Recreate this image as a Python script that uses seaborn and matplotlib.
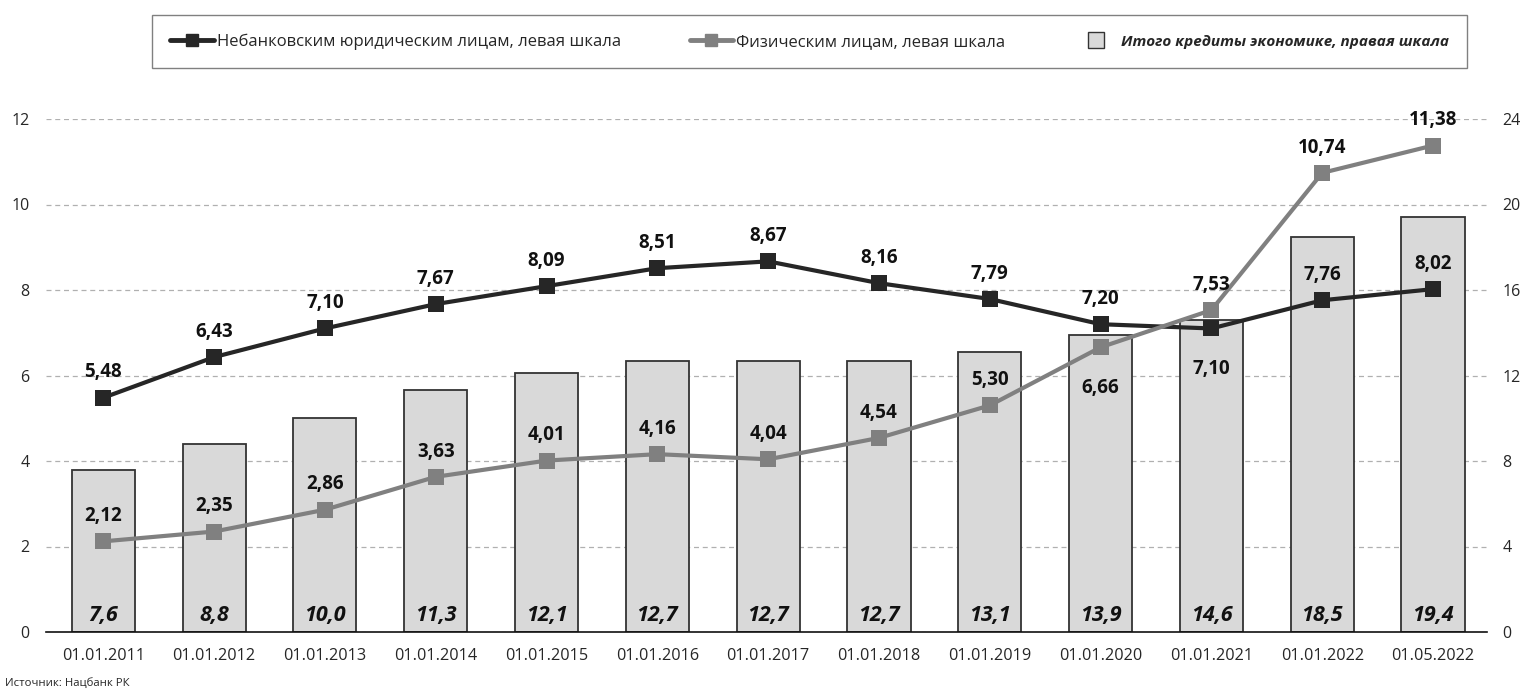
import matplotlib
matplotlib.use("Agg")
import matplotlib.pyplot as plt
import seaborn as sns
import numpy as np
import pandas as pd
from matplotlib.lines import Line2D

# data
dates = ['01.01.2011', '01.01.2012', '01.01.2013', '01.01.2014', '01.01.2015',
         '01.01.2016', '01.01.2017', '01.01.2018', '01.01.2019', '01.01.2020',
         '01.01.2021', '01.01.2022', '01.05.2022']
legal = [5.48, 6.43, 7.10, 7.67, 8.09, 8.51, 8.67, 8.16, 7.79, 7.20, 7.10, 7.76, 8.02]
persons = [2.12, 2.35, 2.86, 3.63, 4.01, 4.16, 4.04, 4.54, 5.30, 6.66, 7.53, 10.74, 11.38]
total = [7.6, 8.8, 10.0, 11.3, 12.1, 12.7, 12.7, 12.7, 13.1, 13.9, 14.6, 18.5, 19.4]

# labels drawn below the marker instead of above
legal_below = ['01.01.2021']
persons_below = ['01.01.2020']

labels = ['Небанковским юридическим лицам, левая шкала',
          'Физическим лицам, левая шкала',
          'Итого кредиты экономике, правая шкала']

df = pd.DataFrame({'date': dates, 'legal': legal, 'persons': persons, 'total': total})

sns.set_style('white')
plt.rcParams['font.family'] = ['Open Sans', 'DejaVu Sans']

dark = '#262626'
grey = '#808080'
bar_col = '#d9d9d9'

W, H = 1523, 693
fig = plt.figure(figsize=(W / 100, H / 100), dpi=100)
ax_bar = fig.add_axes([46 / W, 1 - 632 / H, (1487 - 46) / W, (632 - 119) / H])
ax_line = ax_bar.twinx()

# bars on the right scale
sns.barplot(data=df, x='date', y='total', ax=ax_bar, color=bar_col, saturation=1,
            edgecolor='#333333', linewidth=1.3, width=0.57, zorder=2)
ax_bar.set_ylim(0, 24)
ax_bar.set_yticks(range(0, 25, 4))
ax_bar.yaxis.tick_right()
ax_bar.grid(axis='y', linestyle=(0, (4, 3)), color='#b0b0b0', linewidth=0.9, zorder=0)
ax_bar.set_axisbelow(True)

x = np.arange(len(dates))
sns.lineplot(x=x, y=legal, ax=ax_line, color=dark, linewidth=3, marker='s',
             markersize=12, markeredgewidth=0, legend=False)
sns.lineplot(x=x, y=persons, ax=ax_line, color=grey, linewidth=3, marker='s',
             markersize=12, markeredgewidth=0, legend=False)
ax_line.set_ylim(0, 12)
ax_line.set_yticks(range(0, 13, 2))
ax_line.yaxis.tick_left()
ax_line.set_xlim(-0.517, 12.487)

for a in (ax_bar, ax_line):
    for s in ('top', 'left', 'right'):
        a.spines[s].set_visible(False)
    a.set_xlabel('')
    a.set_ylabel('')
ax_line.spines['bottom'].set_visible(False)
ax_bar.spines['bottom'].set_color('#111111')
ax_bar.spines['bottom'].set_linewidth(1.2)

ax_bar.tick_params(axis='x', direction='out', length=7.5, width=1.2, color='#111111',
                   pad=4, labelsize=11.7)
ax_bar.tick_params(axis='y', length=0, pad=11, labelsize=11.5)
ax_line.tick_params(axis='y', length=0, pad=12, labelsize=11.5)

# value labels
def fmt(v, d=2):
    return f'{v:.{d}f}'.replace('.', ',')

for i, d in enumerate(dates):
    off = -22 if d in legal_below else 11
    ax_line.annotate(fmt(legal[i]), (i, legal[i]), xytext=(0, off), textcoords='offset points',
                     ha='center', va='top' if off < 0 else 'bottom',
                     fontsize=13.5, fontweight='bold', color='#111111')
    off = -22 if d in persons_below else 11
    ax_line.annotate(fmt(persons[i]), (i, persons[i]), xytext=(0, off), textcoords='offset points',
                     ha='center', va='top' if off < 0 else 'bottom',
                     fontsize=13.5, fontweight='bold', color='#111111')
    ax_bar.text(i, 0.75, fmt(total[i], 1), ha='center', va='center', fontsize=15.5,
                fontweight='bold', fontstyle='italic', color='#111111')

# legend
handles = [Line2D([], [], color=dark, linewidth=3.5, marker='s', markersize=8),
           Line2D([], [], color=grey, linewidth=3.5, marker='s', markersize=8),
           Line2D([], [], linestyle='none', marker='s', markersize=11,
                  markerfacecolor=bar_col, markeredgecolor='#333333')]
leg = fig.legend(handles, labels, loc='center', ncol=3, mode='expand',
                 bbox_to_anchor=(152 / W, 1 - 69 / H, (1467 - 152) / W, 55 / H),
                 frameon=True, fancybox=False, edgecolor='#808080', framealpha=1,
                 fontsize=12, handlelength=2.6, handletextpad=0.2, borderaxespad=0,
                 borderpad=1.1)
leg.get_frame().set_linewidth(1)
leg.get_texts()[2].set_fontweight('bold')
leg.get_texts()[2].set_fontstyle('italic')
leg.get_texts()[2].set_fontsize(11)

fig.text(5 / W, 1 - 683 / H, 'Источник: Нацбанк РК', fontsize=8.2, va='center', ha='left')

fig.savefig('out.png', dpi=100)
